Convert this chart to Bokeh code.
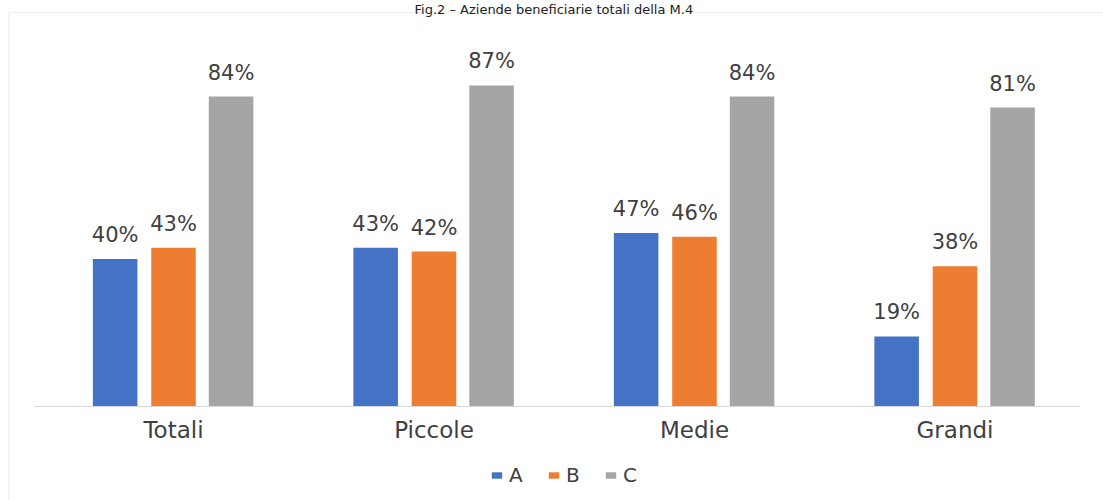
from bokeh.plotting import figure
from bokeh.models import (ColumnDataSource, Legend, LegendItem, BoxAnnotation,
                          Label, Range1d)
from bokeh.core.properties import value
from bokeh.embed import file_html
from bokeh.resources import INLINE

# ---- data ----
categories = ["Totali", "Piccole", "Medie", "Grandi"]
series = ["A", "B", "C"]
values_a = [40, 43, 47, 19]
values_b = [43, 42, 46, 38]
values_c = [84, 87, 84, 81]
title_text = "Fig.2 – Aziende beneficiarie totali della M.4"

colors = ["#4472C4", "#ED7D31", "#A5A5A5"]
offsets = [-0.224, 0.0, 0.221]
FONT = "DejaVu Sans"
TXT = "#404040"

n = len(categories)
centers = [i + 0.5 for i in range(n)]
data = dict(x=centers, cat=categories, A=values_a, B=values_b, C=values_c)
for s, off in zip(series, offsets):
    data["x" + s] = [c + off for c in centers]
    data["l" + s] = [f"{v}%" for v in data[s]]
src = ColumnDataSource(data)

W, H = 1103, 500
p = figure(x_range=Range1d(-0.1641, 4.0701), y_range=Range1d(-25.47, 110.03),
           width=W, height=H, output_backend="svg", toolbar_location=None,
           min_border=0, min_border_left=0, min_border_right=0,
           min_border_top=0, min_border_bottom=0)
p.axis.visible = False
p.grid.visible = False
p.outline_line_color = None

# outer chart border
box = BoxAnnotation(left=-0.1315, right=5, top=106.78, bottom=-40,
                    fill_alpha=0, line_color="#d4d4d4", line_width=1.5,
                    level="underlay")
p.add_layout(box)

renderers = []
for s, c in zip(series, colors):
    r = p.vbar(x="x" + s, top=s, width=0.171, source=src,
               fill_color=c, line_color=None)
    renderers.append(r)
    p.text(x="x" + s, y=s, text="l" + s, source=src,
           text_align="center", text_baseline="alphabetic", y_offset=-24,
           text_font=value(FONT), text_font_size="21px", text_color=TXT)

# category axis: baseline and labels
p.segment(x0=[-0.035], x1=[n - 0.02], y0=[0], y1=[0],
          line_color="#d9d9d9", line_width=1)
p.text(x="x", y=0, text="cat", source=src, text_align="center",
       text_baseline="middle", y_offset=23,
       text_font=value(FONT), text_font_size="23px", text_color=TXT)

# title
p.add_layout(Label(x=1.96, y=107.6, text=title_text, text_align="center",
                   text_baseline="alphabetic", text_font=FONT,
                   text_font_size="13px", text_color="#222222"))

legend = Legend(items=[LegendItem(label=s, renderers=[r]) for s, r in zip(series, renderers)],
                orientation="horizontal", location=(490, 13),
                glyph_width=13, glyph_height=8, label_standoff=6, spacing=18,
                label_text_font=FONT, label_text_font_size="20px",
                label_text_color=TXT, border_line_color=None,
                background_fill_alpha=0, margin=0, padding=5)
p.add_layout(legend)

open("out.html", "w").write(file_html(p, INLINE))
